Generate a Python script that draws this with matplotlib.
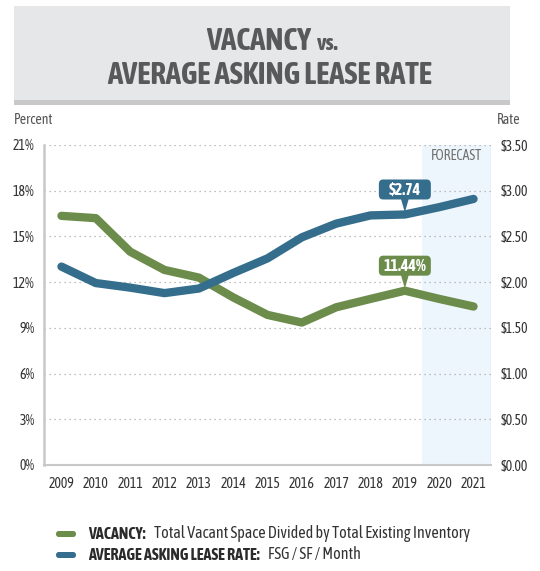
import matplotlib
matplotlib.use("Agg")
import matplotlib.pyplot as plt
from matplotlib.patches import Rectangle, FancyBboxPatch
from matplotlib import font_manager
import matplotlib.patheffects as pe

years = [2009, 2010, 2011, 2012, 2013, 2014, 2015, 2016, 2017, 2018, 2019, 2020, 2021]
vacancy = [16.35, 16.2, 14.0, 12.8, 12.3, 11.0, 9.85, 9.35, 10.35, 10.9, 11.44, 10.9, 10.4]
rate = [2.17, 1.99, 1.94, 1.88, 1.93, 2.10, 2.26, 2.49, 2.64, 2.73, 2.74, 2.82, 2.91]
left_ticks = [0, 3, 6, 9, 12, 15, 18, 21]
right_ticks = [0, 0.5, 1.0, 1.5, 2.0, 2.5, 3.0, 3.5]

# find condensed family; prefer one with a bold face
cands = {}
for f in font_manager.fontManager.ttflist:
    n = f.name
    if any(k in n for k in ('Narrow', 'Condensed')) and 'Mono' not in n and 'Serif' not in n \
            and 'Light' not in n and 'Thin' not in n:
        w = f.weight if isinstance(f.weight, int) else (700 if 'bold' in str(f.weight) else 400)
        cands.setdefault(n, set()).add(w)
FAM = None
HAS_BOLD = False
for n, ws in cands.items():
    if max(ws) >= 600:
        FAM, HAS_BOLD = n, True
        break
if FAM is None and cands:
    FAM = sorted(cands)[0]
if FAM is None:
    FAM = 'Roboto'
plt.rcParams['font.family'] = [FAM, 'DejaVu Sans']


def bold_kw(color, sw=0.7):
    if HAS_BOLD:
        return dict(fontweight='bold', color=color)
    return dict(fontweight='bold', color=color,
                path_effects=[pe.withStroke(linewidth=sw, foreground=color)])


GREEN = '#6b8c4a'
BLUE = '#356e8c'
TXT = '#333333'
TITLE = '#58595b'

W, H = 540, 571
fig = plt.figure(figsize=(W / 100, H / 100), dpi=100)


def fx(px):
    return px / W


def fy(py):
    return 1 - py / H


fig.canvas.draw()
renderer = fig.canvas.get_renderer()


def fit(text_obj, target_w):
    w = text_obj.get_window_extent(renderer).width
    text_obj.set_fontsize(text_obj.get_fontsize() * target_w / w)


# title box
fig.patches.append(Rectangle((fx(14), fy(100)), fx(496), 94 / H, transform=fig.transFigure,
                             facecolor='#e6e7e8', edgecolor='none', zorder=0))
fig.patches.append(Rectangle((fx(14), fy(105)), fx(496), 5 / H, transform=fig.transFigure,
                             facecolor='#c8c8c8', edgecolor='none', zorder=0))
t2 = fig.text(fx(270), fy(76), 'AVERAGE ASKING LEASE RATE', ha='center', va='center',
              fontsize=20, **bold_kw(TITLE, 1.2))
fit(t2, 324)
ts = t2.get_fontsize()
ta = fig.text(0, fy(42), 'VACANCY', ha='left', va='center', fontsize=ts, **bold_kw(TITLE, 1.2))
tb = fig.text(0, fy(44), 'vs.', ha='left', va='center', fontsize=ts * 0.75, **bold_kw(TITLE, 0.9))
wa = ta.get_window_extent(renderer).width
wb = tb.get_window_extent(renderer).width
gap = 6
x0 = 272 - (wa + gap + wb) / 2
ta.set_x(fx(x0))
tb.set_x(fx(x0 + wa + gap))

ax = fig.add_axes([fx(44.3), fy(465), fx(490.7 - 44.3), (465 - 145) / H])
ax.set_xlim(2008.5, 2021.5)
ax.set_ylim(0, 21)
ax.axvspan(2019.5, 2021.5, color='#eef6fd', zorder=0, lw=0)
ax.axvline(2021.5, color='#d5dde5', lw=1, zorder=1)
for t in left_ticks[1:]:
    ax.axhline(t, color='#aaaaaa', lw=0.9, ls=(0, (1, 3)), zorder=1)
ax.plot(years, vacancy, color=GREEN, lw=6, solid_capstyle='round', solid_joinstyle='round', zorder=3)

ax2 = ax.twinx()
ax2.set_ylim(0, 3.5)
ax2.plot(years, rate, color=BLUE, lw=6, solid_capstyle='round', solid_joinstyle='round', zorder=3)

for a in (ax, ax2):
    for s in ['top', 'right']:
        a.spines[s].set_visible(False)
ax2.spines['left'].set_visible(False)
ax2.spines['bottom'].set_visible(False)
ax.spines['left'].set_color('#c8c8c8')
ax.spines['left'].set_linewidth(1.8)
ax.spines['bottom'].set_color('#c8c8c8')
ax.spines['bottom'].set_linewidth(1.5)

LS = 10
ax.set_yticks(left_ticks)
ax.set_yticklabels([f'{t}%' for t in left_ticks])
ax2.set_yticks(right_ticks)
ax2.set_yticklabels([f'${t:.2f}' for t in right_ticks])
ax.set_xticks(years)
ax.set_xticklabels([str(y) for y in years])
ax.tick_params(axis='both', length=0, labelsize=LS, colors=TXT)
ax.tick_params(axis='y', pad=7)
ax.tick_params(axis='x', pad=9)
ax2.tick_params(axis='y', length=0, labelsize=LS, colors=TXT, pad=7)

fig.text(fx(14), fy(120), 'Percent', ha='left', va='center', fontsize=LS, color='#555555')
fig.text(fx(497), fy(120), 'Rate', ha='left', va='center', fontsize=LS, color='#555555')
fc = ax.text(2020.5, 20.3, 'FORECAST', ha='center', va='center', fontsize=9, color='#707070')
fit(fc, 51)


def callout(axis, x, y, text, color, dy_px):
    disp = axis.transData.transform((x, y))
    tip = disp
    cx, cy = disp[0], disp[1] + dy_px
    inv = fig.transFigure.inverted()
    bw, bh = 52, 20
    (bx0, by0) = inv.transform((cx - bw / 2, cy - bh / 2))
    (bx1, by1) = inv.transform((cx + bw / 2, cy + bh / 2))
    fig.patches.append(FancyBboxPatch((bx0, by0), bx1 - bx0, by1 - by0,
                                      boxstyle='round,pad=0,rounding_size=0.008',
                                      transform=fig.transFigure, facecolor=color,
                                      edgecolor='none', zorder=5))
    tri = [inv.transform((cx - 4, cy - bh / 2 + 1)), inv.transform((cx + 4, cy - bh / 2 + 1)),
           inv.transform((tip[0], tip[1] + 2))]
    fig.patches.append(plt.Polygon(tri, closed=True, transform=fig.transFigure,
                                   facecolor=color, edgecolor='none', zorder=5))
    cfx, cfy = inv.transform((cx, cy))
    fig.text(cfx, cfy, text, ha='center', va='center', fontsize=11.5, zorder=6,
             **bold_kw('white', 0.7))


fig.canvas.draw()
callout(ax2, 2019, 2.74, '$2.74', BLUE, 25)
callout(ax, 2019, 11.44, '11.44%', GREEN, 25)

LG = 11.5


def legend_row(py, color, bold, regular):
    fig.patches.append(FancyBboxPatch((fx(56), fy(py + 3)), fx(20), 6 / H,
                                      boxstyle='round,pad=0,rounding_size=0.005',
                                      transform=fig.transFigure, facecolor=color,
                                      edgecolor='none'))
    t = fig.text(fx(88), fy(py), bold, ha='left', va='center', fontsize=LG,
                 **bold_kw('#2a2a2a', 0.7))
    bb = t.get_window_extent(renderer)
    return t, fig.text(bb.x1 / W + fx(8), fy(py), regular, ha='left', va='center',
                       fontsize=LG, color='#333333')


legend_row(534, GREEN, 'VACANCY:', 'Total Vacant Space Divided by Total Existing Inventory')
legend_row(555, BLUE, 'AVERAGE ASKING LEASE RATE:', 'FSG / SF / Month')

fig.savefig('out.png', dpi=100)
